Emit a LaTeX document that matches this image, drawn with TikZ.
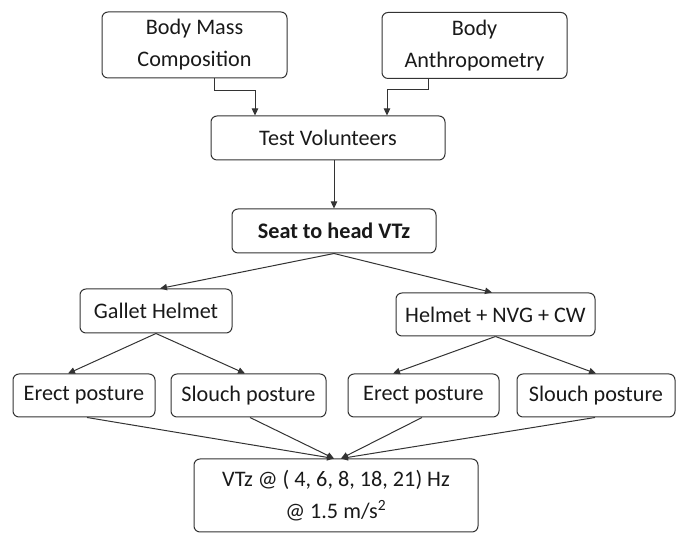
\documentclass[tikz,border=0pt]{standalone}
\usepackage{fontspec}
\setmainfont{Carlito}
\usetikzlibrary{arrows.meta}
\begin{document}
\begin{tikzpicture}[x=0.5pt,y=-0.5pt,
  box/.style={draw=black!80,line width=0.5pt,rounded corners=3pt,inner sep=0pt,align=center,
    text=black!90,font=\fontsize{11.1}{16}\selectfont},
  arr/.style={draw=black!80,line width=0.5pt,-{Triangle[length=3.5pt,width=3.2pt]}}]
\useasboundingbox (0,0) rectangle (682,533);
\node[box,minimum width=92.5pt,minimum height=33pt] (bmc) at (194.5,45) {Body Mass\\Composition};
\node[box,minimum width=92.5pt,minimum height=33pt] (ba) at (474.5,45.5) {Body\\Anthropometry};
\node[box,minimum width=117pt,minimum height=22pt] (tv) at (328,138) {Test Volunteers};
\node[box,minimum width=102pt,minimum height=22pt,font=\fontsize{11.1}{16}\selectfont\bfseries] (seat) at (334,231) {Seat to head VTz};
\node[box,minimum width=76pt,minimum height=22pt] (gh) at (156,311) {Gallet Helmet};
\node[box,minimum width=99.5pt,minimum height=21.5pt] (hnc) at (495.5,314.5) {Helmet + NVG + CW};
\node[box,minimum width=71pt,minimum height=21.5pt] (e1) at (84,395.5) {Erect posture};
\node[box,minimum width=77.5pt,minimum height=21.5pt] (s1) at (248.5,395.5) {Slouch posture};
\node[box,minimum width=75.5pt,minimum height=21.5pt] (e2) at (423.5,395.5) {Erect posture};
\node[box,minimum width=79pt,minimum height=21.5pt] (s2) at (596,395.5) {Slouch posture};
\node[box,minimum width=142pt,minimum height=36.5pt] (vtz) at (336,495.5) {VTz @ ( 4, 6, 8, 18, 21) Hz\\@ 1.5 m/s\textsuperscript{2}};
\draw[arr] ([xshift=9.75pt]bmc.south) -- ++(0pt,-6pt) -| ([xshift=-36.5pt]tv.north);
\draw[arr] ([xshift=-23.25pt]ba.south) -- ++(0pt,-5.5pt) -| ([xshift=29.5pt]tv.north);
\draw[arr] (tv.south -| seat.north) -- (seat.north);
\draw[arr] (seat.south) -- ([xshift=2pt]gh.north);
\draw[arr] (seat.south) -- ([xshift=-1.75pt]hnc.north);
\draw[arr] (gh.south) -- ([xshift=-8pt]e1.north);
\draw[arr] (gh.south) -- ([xshift=-1.75pt]s1.north);
\draw[arr] (hnc.south) -- ([xshift=-15.25pt]e2.north);
\draw[arr] (hnc.south) -- (s2.north);
\draw[arr] ([xshift=1.5pt]e1.south) -- ([xshift=-1pt]vtz.north);
\draw[arr] ([xshift=0.75pt]s1.south) -- ([xshift=-1pt]vtz.north);
\draw[arr] ([xshift=-0.75pt]e2.south) -- ([xshift=2.5pt]vtz.north);
\draw[arr] ([xshift=-0.5pt]s2.south) -- ([xshift=2.5pt]vtz.north);
\end{tikzpicture}
\end{document}
